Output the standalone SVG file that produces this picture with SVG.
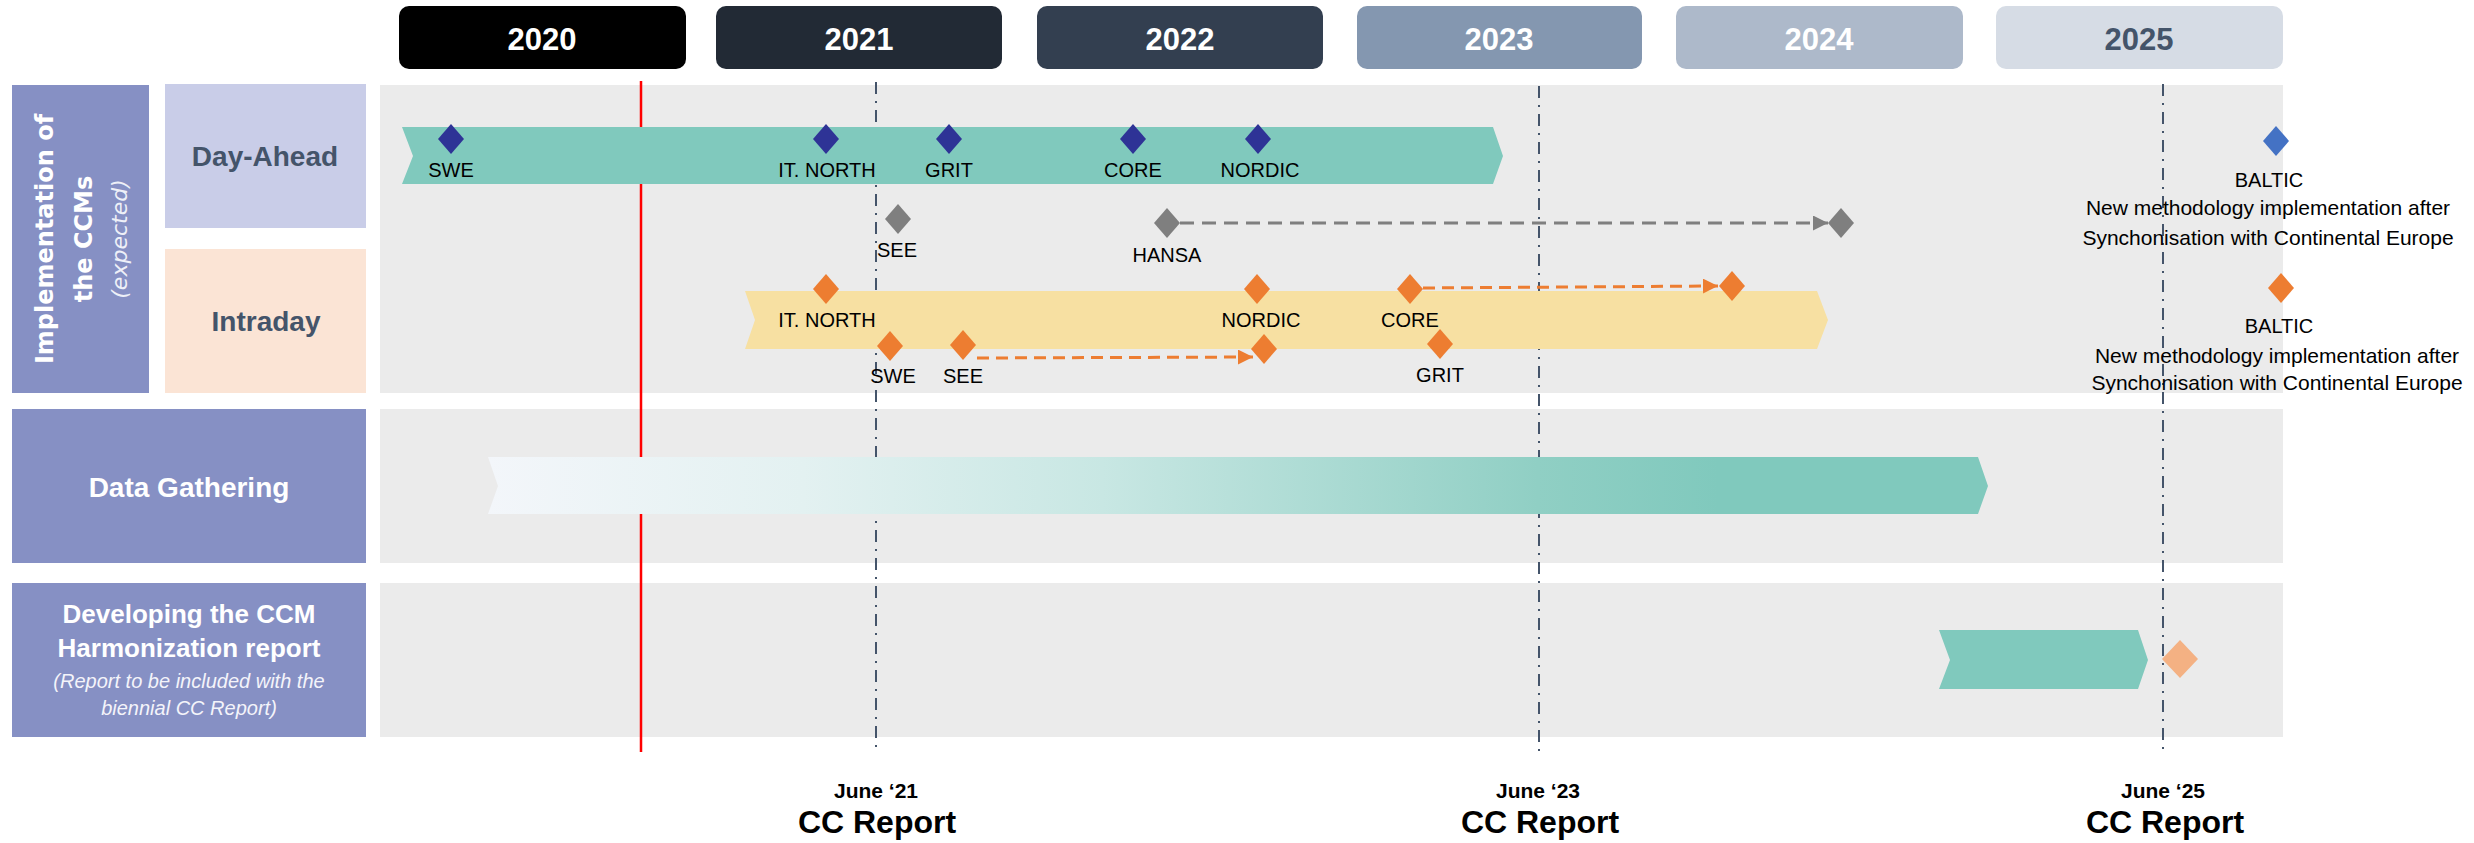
<svg xmlns="http://www.w3.org/2000/svg" xmlns:xlink="http://www.w3.org/1999/xlink" width="2474" height="843" viewBox="0 0 2474 843">
<style>
text{font-family:"Liberation Sans",Arial,sans-serif}
.yr{font-size:31px;font-weight:bold;fill:#fff;text-anchor:middle}
.panel{fill:#ebebeb}
.side{fill:#8690c4}
.hd{font-size:28px;font-weight:bold;text-anchor:middle}
.lbl{font-size:20px;fill:#000;text-anchor:middle}
.lng{font-size:21px}
.navy{fill:#2e3396}
.org{fill:#ed7d31}
.gry{fill:#7f7f7f}
.blu{fill:#4472c4}
.ddot{stroke:#44546a;stroke-width:2;stroke-dasharray:12 7 2 7;fill:none}
.cc1{font-size:21px;font-weight:bold;text-anchor:middle;fill:#000}
.cc2{font-size:32px;font-weight:bold;text-anchor:middle;fill:#000}
.dashg{stroke:#7f7f7f;stroke-width:3;stroke-dasharray:14 8;fill:none}
.dasho{stroke:#ed7d31;stroke-width:3;stroke-dasharray:12 7;fill:none}
.rot{font-family:"DejaVu Sans",Verdana,sans-serif;font-size:24px;font-weight:bold;fill:#fff;text-anchor:middle}
</style>
<defs>
<path id="dm" d="M0,-15 L13,0 L0,15 L-13,0 Z"/>
<linearGradient id="gd" gradientUnits="userSpaceOnUse" x1="488" y1="0" x2="1988" y2="0">
<stop offset="0" stop-color="#f3f6fa"/>
<stop offset="0.21" stop-color="#e3f1f1"/>
<stop offset="0.41" stop-color="#c8e7e3"/>
<stop offset="0.70" stop-color="#90cfc4"/>
<stop offset="0.82" stop-color="#80c9bd"/>
<stop offset="1" stop-color="#80c9bd"/>
</linearGradient>
<marker id="ag" viewBox="0 0 10 10" refX="10" refY="5" markerWidth="15" markerHeight="15" markerUnits="userSpaceOnUse" orient="auto"><path d="M0,0 L10,5 L0,10 Z" fill="#7f7f7f"/></marker>
<marker id="ao" viewBox="0 0 10 10" refX="10" refY="5" markerWidth="15" markerHeight="15" markerUnits="userSpaceOnUse" orient="auto"><path d="M0,0 L10,5 L0,10 Z" fill="#ed7d31"/></marker>
</defs>
<rect width="2474" height="843" fill="#fff"/>

<g id="years">
<g id="y2020"><rect x="399" y="6" width="287" height="63" rx="10" fill="#000"/><text class="yr" x="542" y="50">2020</text></g>
<g id="y2021"><rect x="716" y="6" width="286" height="63" rx="10" fill="#222a35"/><text class="yr" x="859" y="50">2021</text></g>
<g id="y2022"><rect x="1037" y="6" width="286" height="63" rx="10" fill="#333f50"/><text class="yr" x="1180" y="50">2022</text></g>
<g id="y2023"><rect x="1357" y="6" width="285" height="63" rx="10" fill="#8497b0"/><text class="yr" x="1499" y="50">2023</text></g>
<g id="y2024"><rect x="1676" y="6" width="287" height="63" rx="10" fill="#adb9ca"/><text class="yr" x="1819" y="50">2024</text></g>
<g id="y2025"><rect x="1996" y="6" width="287" height="63" rx="10" fill="#d6dce5"/><text class="yr" x="2139" y="50" style="fill:#44546a">2025</text></g>
</g>

<g id="row-labels">
<g id="impl"><rect class="side" x="12" y="85" width="137" height="308"/>
<text class="rot" transform="translate(53,239) rotate(-90)">Implementation of</text>
<text class="rot" transform="translate(92,239) rotate(-90)">the CCMs</text>
<text class="rot" transform="translate(127,239) rotate(-90)" style="font-weight:normal;font-style:italic;font-size:22px;fill:#eef0f8">(expected)</text>
</g>
<g id="dayahead"><rect x="165" y="84" width="201" height="144" fill="#c9cde8"/><text class="hd" x="265" y="166" fill="#44546a">Day-Ahead</text></g>
<g id="intraday"><rect x="165" y="249" width="201" height="144" fill="#fbe4d5"/><text class="hd" x="266" y="331" fill="#44546a">Intraday</text></g>
<g id="datagathering"><rect class="side" x="12" y="409" width="354" height="154"/><text class="hd" x="189" y="497" fill="#fff">Data Gathering</text></g>
<g id="developing"><rect class="side" x="12" y="583" width="354" height="154"/>
<text class="hd" x="189" y="623" fill="#fff" style="font-size:26px">Developing the CCM</text>
<text class="hd" x="189" y="657" fill="#fff" style="font-size:26px">Harmonization report</text>
<text x="189" y="688" fill="#f4f4fa" style="font-size:20px;font-style:italic;text-anchor:middle">(Report to be included with the</text>
<text x="189" y="715" fill="#f4f4fa" style="font-size:20px;font-style:italic;text-anchor:middle">biennial CC Report)</text>
</g>
</g>

<g id="panels">
<rect class="panel" x="380" y="85" width="1903" height="308"/>
<rect class="panel" x="380" y="409" width="1903" height="154"/>
<rect class="panel" x="380" y="583" width="1903" height="154"/>
</g>

<g id="markers-lines">
<line x1="641" y1="81" x2="641" y2="752" stroke="#ff0000" stroke-width="2.5"/>
<line class="ddot" x1="876" y1="82" x2="876" y2="750"/>
<line class="ddot" x1="1539" y1="86" x2="1539" y2="753"/>
<line class="ddot" x1="2163" y1="84" x2="2163" y2="750"/>
</g>

<g id="bars">
<polygon id="bar-da" points="402,127 1493,127 1503,156 1493,184 402,184 413,156" fill="#80c9bd"/>
<polygon id="bar-id" points="745,291 1817,291 1828,320 1817,349 745,349 755,320" fill="#f7e0a2"/>
<polygon id="bar-data" points="488,457 1978,457 1988,486 1978,514 488,514 498,486" fill="url(#gd)"/>
<polygon id="bar-dev" points="1939,630 2138,630 2148,660 2138,689 1939,689 1950,660" fill="#80c9bd"/>
</g>

<g id="connectors">
<line class="dashg" x1="1180" y1="223" x2="1828" y2="223" marker-end="url(#ag)"/>
<line class="dasho" x1="1423" y1="288" x2="1718" y2="286" marker-end="url(#ao)"/>
<line class="dasho" x1="977" y1="358" x2="1253" y2="357" marker-end="url(#ao)"/>
</g>

<g id="milestones-da">
<g id="da-swe"><use href="#dm" x="451" y="139" class="navy"/><text class="lbl" x="451" y="177">SWE</text></g>
<g id="da-itnorth"><use href="#dm" x="826" y="139" class="navy"/><text class="lbl" x="827" y="177">IT. NORTH</text></g>
<g id="da-grit"><use href="#dm" x="949" y="139" class="navy"/><text class="lbl" x="949" y="177">GRIT</text></g>
<g id="da-core"><use href="#dm" x="1133" y="139" class="navy"/><text class="lbl" x="1133" y="177">CORE</text></g>
<g id="da-nordic"><use href="#dm" x="1258" y="139" class="navy"/><text class="lbl" x="1260" y="177">NORDIC</text></g>
<g id="da-see"><use href="#dm" x="898" y="219" class="gry"/><text class="lbl" x="897" y="257">SEE</text></g>
<g id="da-hansa"><use href="#dm" x="1167" y="223" class="gry"/><text class="lbl" x="1167" y="262">HANSA</text></g>
<g id="da-hansa-end"><use href="#dm" x="1841" y="223" class="gry"/></g>
<g id="da-baltic"><use href="#dm" x="2276" y="141" class="blu"/>
<text class="lbl" x="2269" y="187">BALTIC</text>
<text class="lbl lng" x="2268" y="215">New methodology implementation after</text>
<text class="lbl lng" x="2268" y="245">Synchonisation with Continental Europe</text></g>
</g>

<g id="milestones-id">
<g id="id-itnorth"><use href="#dm" x="826" y="289" class="org"/><text class="lbl" x="827" y="327">IT. NORTH</text></g>
<g id="id-nordic"><use href="#dm" x="1257" y="289" class="org"/><text class="lbl" x="1261" y="327">NORDIC</text></g>
<g id="id-core"><use href="#dm" x="1410" y="289" class="org"/><text class="lbl" x="1410" y="327">CORE</text></g>
<g id="id-core-end"><use href="#dm" x="1732" y="286" class="org"/></g>
<g id="id-swe"><use href="#dm" x="890" y="346" class="org"/><text class="lbl" x="893" y="383">SWE</text></g>
<g id="id-see"><use href="#dm" x="963" y="345" class="org"/><text class="lbl" x="963" y="383">SEE</text></g>
<g id="id-see-end"><use href="#dm" x="1264" y="349" class="org"/></g>
<g id="id-grit"><use href="#dm" x="1440" y="344" class="org"/><text class="lbl" x="1440" y="382">GRIT</text></g>
<g id="id-baltic"><use href="#dm" x="2281" y="288" class="org"/>
<text class="lbl" x="2279" y="333">BALTIC</text>
<text class="lbl lng" x="2277" y="363">New methodology implementation after</text>
<text class="lbl lng" x="2277" y="390">Synchonisation with Continental Europe</text></g>
</g>

<g id="dev-milestone"><path d="M2180,640 L2198,659 L2180,678 L2162,659 Z" fill="#f4b183"/></g>

<g id="cc-reports">
<g id="cc21"><text class="cc1" x="876" y="798">June ‘21</text><text class="cc2" x="877" y="833">CC Report</text></g>
<g id="cc23"><text class="cc1" x="1538" y="798">June ‘23</text><text class="cc2" x="1540" y="833">CC Report</text></g>
<g id="cc25"><text class="cc1" x="2163" y="798">June ‘25</text><text class="cc2" x="2165" y="833">CC Report</text></g>
</g>
</svg>
